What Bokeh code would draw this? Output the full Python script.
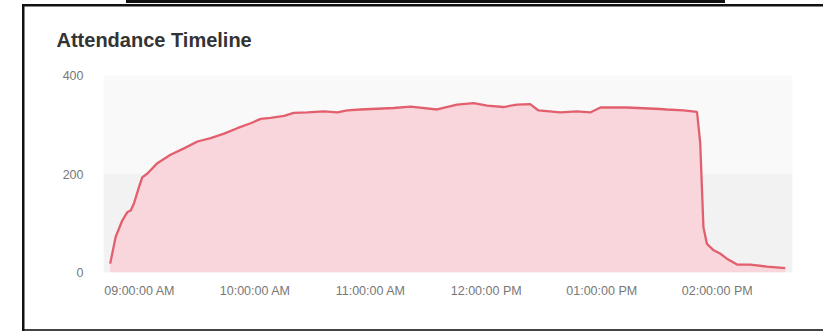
import pandas as pd
from bokeh.plotting import figure
from bokeh.models import (BoxAnnotation, FixedTicker, DatetimeTickFormatter,
                          Range1d, ColumnDataSource)
from bokeh.embed import file_html
from bokeh.resources import INLINE

# Attendance counts over the day
day = "2024-01-01 "
times = [
    "08:44:40", "08:47:30", "08:51:00", "08:53:40", "08:55:20", "08:57:00", "08:59:40",
    "09:01:20", "09:04:00", "09:09:10", "09:16:00", "09:23:00", "09:30:00", "09:36:50",
    "09:43:50", "09:50:40", "09:57:40", "10:02:50", "10:08:00", "10:15:00", "10:20:00",
    "10:27:00", "10:35:40", "10:42:40", "10:47:50", "10:54:40", "11:12:00", "11:20:40",
    "11:34:30", "11:44:50", "11:53:30", "12:00:30", "12:09:00", "12:16:00", "12:22:50",
    "12:27:10", "12:38:30", "12:47:10", "12:54:00", "12:59:20", "13:13:00", "13:30:20",
    "13:33:50", "13:42:30", "13:49:30", "13:51:10", "13:52:50", "13:54:40", "13:58:10",
    "14:01:40", "14:05:00", "14:10:20", "14:17:10", "14:25:50", "14:35:20",
]
attendance = [
    18, 72, 106, 123, 126, 140, 174,
    193, 201, 222, 239, 252, 266, 273,
    282, 293, 303, 312, 314, 318, 324,
    325, 327, 325, 329, 331, 334, 337,
    331, 341, 344, 339, 336, 341, 342,
    329, 325, 327, 325, 335, 335, 332,
    331, 329, 326, 263, 92, 58, 45,
    38, 28, 16, 16, 12, 9,
]
tick_times = ["09:00", "10:00", "11:00", "12:00", "13:00", "14:00"]
y_ticks = [0, 200, 400]
x_start, x_end = "08:41:12", "14:39:06"

ts = pd.to_datetime([day + t for t in times])
src = ColumnDataSource(dict(t=ts, n=attendance, z=[0] * len(attendance)))

def ms(t):
    return pd.Timestamp(day + t).value / 1e6

# panel frame drawn as CSS backgrounds behind a transparent canvas
frame_css = ", ".join([
    "linear-gradient(#111,#111) 126px 0px / 599px 3px no-repeat",
    "linear-gradient(#111,#111) 22px 4px / 801px 2.5px no-repeat",
    "linear-gradient(#111,#111) 22px 4px / 2.5px 327px no-repeat",
    "linear-gradient(#444,#444) 22px 329px / 801px 2px no-repeat",
])

p = figure(width=823, height=331, x_axis_type="datetime",
           output_backend="svg", toolbar_location=None,
           x_range=Range1d(ms(x_start), ms(x_end)), y_range=Range1d(0, 400),
           min_border_left=103, min_border_right=31,
           min_border_top=75, min_border_bottom=59,
           styles={"background": frame_css})
p.outline_line_color = None
p.background_fill_color = "#f9f9f9"
p.border_fill_alpha = 0
p.xgrid.visible = False
p.ygrid.visible = False

p.title.text = "Attendance Timeline"
p.title.align = "left"
p.title.offset = -47
p.title.standoff = 50
p.title.text_font = "Liberation Sans"
p.title.text_font_style = "bold"
p.title.text_font_size = "20px"
p.title.text_color = "#333333"

# lower band of the plot area
p.add_layout(BoxAnnotation(top=200, fill_color="#f2f2f2", fill_alpha=1,
                           line_color=None, level="underlay"))

p.varea(x="t", y1="z", y2="n", source=src, fill_color="#f8d6db", fill_alpha=1)
p.line(x="t", y="n", source=src, line_color="#e2606e", line_width=2.3)

for ax in (p.xaxis[0], p.yaxis[0]):
    ax.axis_line_color = None
    ax.major_tick_line_color = None
    ax.minor_tick_line_color = None
    ax.major_tick_in = 0
    ax.major_tick_out = 0
    ax.major_label_text_font = "Liberation Sans"
    ax.major_label_text_font_size = "12.5px"
    ax.major_label_text_color = "#777777"

p.xaxis.ticker = FixedTicker(ticks=[ms(t) for t in tick_times])
fmt = "%I:%M:%S %p"
p.xaxis.formatter = DatetimeTickFormatter(
    milliseconds=fmt, seconds=fmt, minsec=fmt, minutes=fmt, hourmin=fmt,
    hours=fmt, days=fmt, months=fmt, years=fmt, context=None)
p.xaxis.major_label_standoff = 11
p.yaxis.ticker = FixedTicker(ticks=y_ticks)
p.yaxis.major_label_standoff = 20

open("out.html", "w").write(file_html(p, INLINE))
